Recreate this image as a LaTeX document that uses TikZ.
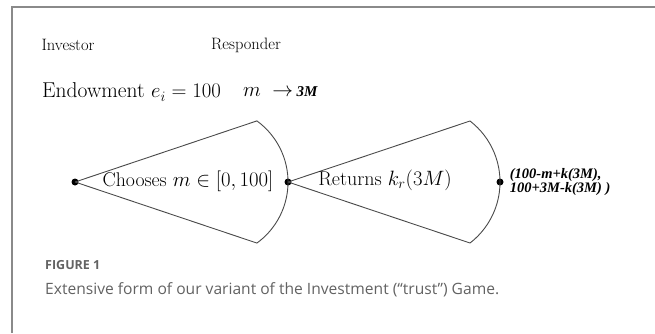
\documentclass[tikz,border=0pt]{standalone}
\usepackage{amsmath,amssymb}
\usepackage{fontspec}
\usepackage{tikz}
\usetikzlibrary{positioning}
\newfontfamily\payfont{Liberation Serif}
\newfontfamily\capfont{Open Sans}
\definecolor{tgFrame}{HTML}{8A8A8A}
\definecolor{tgInk}{HTML}{4A4A4A}
\definecolor{tgCap}{HTML}{626262}

\begin{document}
\begin{tikzpicture}[
  x=1pt, y=1pt,
  dot/.style={circle, fill=black, inner sep=0pt, minimum size=7pt},
  branch/.style={draw=tgInk, line width=0.9pt},
  player/.style={font=\fontsize{16.5}{18}\selectfont, inner sep=0pt},
  lab/.style={font=\fontsize{20}{24}\selectfont, inner sep=0pt},
  pay/.style={font=\payfont\bfseries\itshape\fontsize{14.5}{14.5}\selectfont,
    align=left, inner sep=0pt},
  capline/.style={font=\capfont\fontsize{15.6}{18}\selectfont, text=tgCap, inner sep=0pt}
]
  \useasboundingbox (0,0) rectangle (655,333);
  % frame
  \draw[tgFrame, line width=2pt] (12,0) -- (12,326) -- (656,326);

  % players
  \node[player] (inv) at (68,288) {Investor};
  \node[player] (resp) at (246,288) {Responder};
  \node[lab, anchor=west, font=\fontsize{21.5}{24}\selectfont]
    (endow) at (42,241) {Endowment $e_i = 100$};
  \node[lab, anchor=west] (mult) at (243,241)
    {$m\;\rightarrow$\,{\payfont\bfseries\itshape\fontsize{15}{18}\selectfont 3M}};

  % decision nodes
  \node[dot] (root) at (75,151) {};
  \node[dot] (mid) at (288,151) {};
  \node[dot] (leaf) at (500,151) {};
  \coordinate (topA) at (256.9,212.1);
  \coordinate (topB) at (470,212);

  % sectors
  \draw[branch] (root.center) -- (topA)
    arc[start angle=54, end angle=-54, radius=75.5] -- (root.center);
  \draw[branch] (mid.center) -- (topB)
    arc[start angle=52.4, end angle=-52.4, radius=77] -- (mid.center);

  \node[lab, font=\fontsize{19.8}{24}\selectfont] (choose) at (188,152)
    {Chooses $m \in [0,100]$};
  \node[lab] (ret) at (385,153) {Returns $k_r(3M)$};
  \node[pay, anchor=west, right=6pt of leaf] (payoff)
    {(100-m+k(3M),\\100+3M-k(3M) )};

  % caption
  \node[capline, anchor=west, font=\capfont\bfseries\fontsize{12.5}{14}\selectfont]
    (fig) at (45,68) {FIGURE 1};
  \node[capline, anchor=west] (title) at (45,43)
    {Extensive form of our variant of the Investment (“trust”) Game.};
\end{tikzpicture}
\end{document}
